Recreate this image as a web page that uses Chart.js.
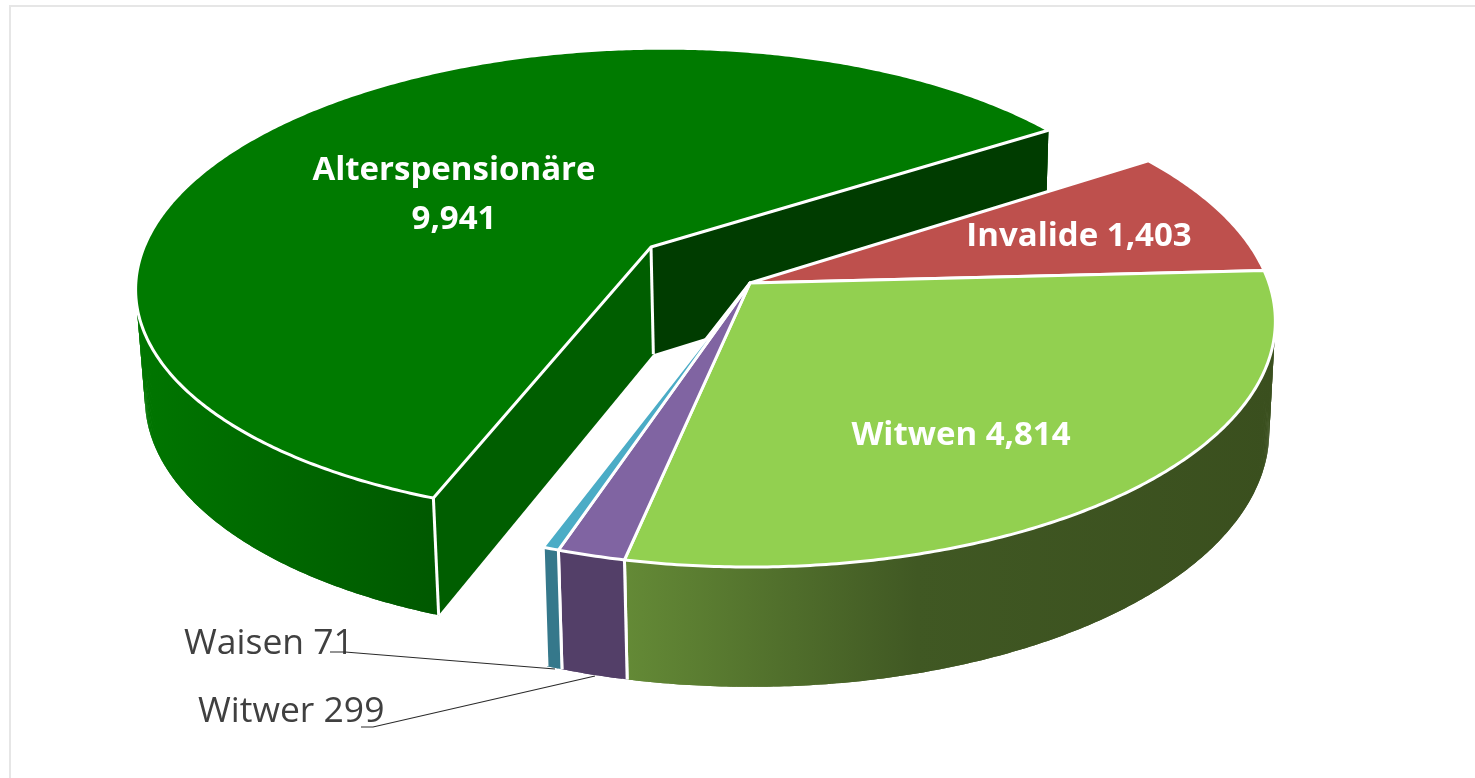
<!DOCTYPE html>
<html><head><meta charset="utf-8">
<script src="https://cdn.jsdelivr.net/npm/chart.js@4"></script>
<style>
html,body{margin:0;padding:0;background:#fff;overflow:hidden}
#wrap{position:relative;width:1475px;height:778px}
#frame{position:absolute;left:9px;top:5px;right:-4px;bottom:-4px;border:2px solid #e6e6e6}
canvas{position:absolute;left:0;top:0}
</style></head><body>
<div id="wrap"><div id="frame"></div><canvas id="c" width="1475" height="778"></canvas></div>
<script>
const categories = ['Alterspensionäre','Invalide','Witwen','Witwer','Waisen'];
const values = [9941,1403,4814,299,71];
const topColors = ['#007A00','#BE504D','#92D050','#8064A2','#4BACC6'];
const borderColors = ['#ffffff','#ffffff','#ffffff','#ffffff','#ffffff'];
const sideStops = [
  [[0,'#007600'],[1,'#005800']],
  [[0,'#7a3230'],[1,'#7a3230']],
  [[0,'#648A36'],[0.45,'#405823'],[1,'#3A4F1E']],
  [[0,'#533F68'],[1,'#533F68']],
  [[0,'#35788B'],[1,'#35788B']]
];
const cutWallColors = ['#005E00','#7a3230','#3A4F1E','#533F68','#35788B'];
const endWallColors = ['#003C00','#7a3230','#3A4F1E','#533F68','#35788B'];
const explode = [74.5,0,0,0,0];
const BASE_RADIUS = 300;

/* perspective view of the pie's plane: top face and bottom face */
const TOP = {ox:750, oy:283, rx:519, ry:240, k:0.155};
const BOT = {ox:751, oy:391.6, rx:512, ry:249.5, k:0.155};
function proj(pl,u,v){const s=1/(1-pl.k*v);return [pl.ox+pl.rx*u*s, pl.oy+pl.ry*v*s];}

function planePts(el){
  const o = (el.options.offset||0)/el.outerRadius, mid=(el.startAngle+el.endAngle)/2;
  const du=o*Math.cos(mid), dv=o*Math.sin(mid);
  const steps=Math.max(2,Math.ceil((el.endAngle-el.startAngle)/(Math.PI/360)));
  const arc=[];
  for(let i=0;i<=steps;i++){
    const a=el.startAngle+(el.endAngle-el.startAngle)*i/steps;
    arc.push([du+Math.cos(a),dv+Math.sin(a),a]);
  }
  return {apex:[du,dv],arc};
}
function pathOf(ctx,pts){ctx.beginPath();pts.forEach((p,i)=>i?ctx.lineTo(p[0],p[1]):ctx.moveTo(p[0],p[1]));ctx.closePath();}
function drawWalls(ctx,el,i){
  const {apex,arc}=planePts(el);
  const t=arc.map(p=>proj(TOP,p[0],p[1])), b=arc.map(p=>proj(BOT,p[0],p[1]));
  const n=arc.length-1;
  const front=[];
  arc.forEach((p,j)=>{if(Math.sin(p[2])>-0.25)front.push(j);});
  if(front.length){
    const xs=[];
    front.forEach(j=>{xs.push(t[j][0],b[j][0]);});
    const g=ctx.createLinearGradient(Math.min(...xs),0,Math.max(...xs),0);
    sideStops[i].forEach(s=>g.addColorStop(s[0],s[1]));
    ctx.fillStyle=g;
    for(let j=0;j<n;j++){
      const e=Math.min(n,j+2);
      pathOf(ctx,[t[j],t[j+1],t[e],b[e],b[j+1],b[j]]);
      ctx.fill();
    }
  }
  const tA=proj(TOP,apex[0],apex[1]), bA=proj(BOT,apex[0],apex[1]);
  const exploded=(el.options.offset||0)>0;
  ctx.strokeStyle=el.options.borderColor;ctx.lineWidth=3;
  if(exploded){
    ctx.fillStyle=endWallColors[i];
    pathOf(ctx,[tA,t[n],b[n],bA]);ctx.fill();
    ctx.fillStyle=cutWallColors[i];
    pathOf(ctx,[tA,t[0],b[0],bA]);ctx.fill();
    [[tA,bA],[t[0],b[0]]].forEach(s=>{ctx.beginPath();ctx.moveTo(s[0][0],s[0][1]);ctx.lineTo(s[1][0],s[1][1]);ctx.stroke();});
  } else {
    [0,n].forEach(j=>{
      if(Math.sin(arc[j][2])>0){ctx.beginPath();ctx.moveTo(t[j][0],t[j][1]);ctx.lineTo(b[j][0],b[j][1]);ctx.stroke();}
    });
  }
}
function drawTop(ctx,el){
  const {apex,arc}=planePts(el);
  const pts=[proj(TOP,apex[0],apex[1])].concat(arc.map(p=>proj(TOP,p[0],p[1])));
  pathOf(ctx,pts);
  ctx.fillStyle=el.options.backgroundColor;ctx.fill();
  ctx.strokeStyle=el.options.borderColor;ctx.lineWidth=el.options.borderWidth;ctx.lineJoin='round';ctx.stroke();
}
const fmt=v=>v.toLocaleString('en-US');
const LABEL_FONT_BOLD='700 33px "Open Sans", sans-serif';
const LABEL_FONT='400 35.5px "Open Sans", sans-serif';
const insideLabels=[
  {i:0,x:454,y:[180,229],two:true},
  {i:1,x:1079,y:[246]},
  {i:2,x:961,y:[445]}
];
const outsideLabels=[
  {i:4,x:184,y:654,line:[[330,652],[345,652],[555,669]]},
  {i:3,x:198,y:722,line:[[361,727],[373,727],[595,676]]}
];
const pie3d={
  id:'pie3d',
  beforeDatasetsDraw(chart){
    const ctx=chart.ctx, els=chart.getDatasetMeta(0).data;
    ctx.save();
    drawWalls(ctx,els[0],0);
    drawTop(ctx,els[0]);
    [1,2,3,4].forEach(i=>drawWalls(ctx,els[i],i));
    [1,2,3,4].forEach(i=>drawTop(ctx,els[i]));
    ctx.restore();
    return false;
  },
  afterDraw(chart){
    const ctx=chart.ctx;
    ctx.save();
    ctx.textBaseline='alphabetic';
    ctx.fillStyle='#ffffff';ctx.font=LABEL_FONT_BOLD;ctx.textAlign='center';
    insideLabels.forEach(l=>{
      if(l.two){
        ctx.fillText(categories[l.i],l.x,l.y[0]);
        ctx.fillText(fmt(values[l.i]),l.x,l.y[1]);
      } else ctx.fillText(categories[l.i]+' '+fmt(values[l.i]),l.x,l.y[0]);
    });
    ctx.textAlign='left';ctx.fillStyle='#404040';ctx.font=LABEL_FONT;
    outsideLabels.forEach(l=>{
      ctx.fillText(categories[l.i]+' '+fmt(values[l.i]),l.x,l.y);
      ctx.strokeStyle='#2a2a2a';ctx.lineWidth=1.2;
      ctx.beginPath();l.line.forEach((p,j)=>j?ctx.lineTo(p[0],p[1]):ctx.moveTo(p[0],p[1]));ctx.stroke();
    });
    ctx.restore();
  }
};
new Chart(document.getElementById('c'),{
  type:'pie',
  data:{labels:categories,datasets:[{
    data:values,
    backgroundColor:topColors,
    borderColor:borderColors,
    borderWidth:3,
    offset:explode
  }]},
  options:{
    responsive:false,
    animation:false,
    rotation:-160.1,
    radius:BASE_RADIUS,
    layout:{padding:0},
    plugins:{legend:{display:false},tooltip:{enabled:false}}
  },
  plugins:[pie3d]
});
</script>
</body></html>
